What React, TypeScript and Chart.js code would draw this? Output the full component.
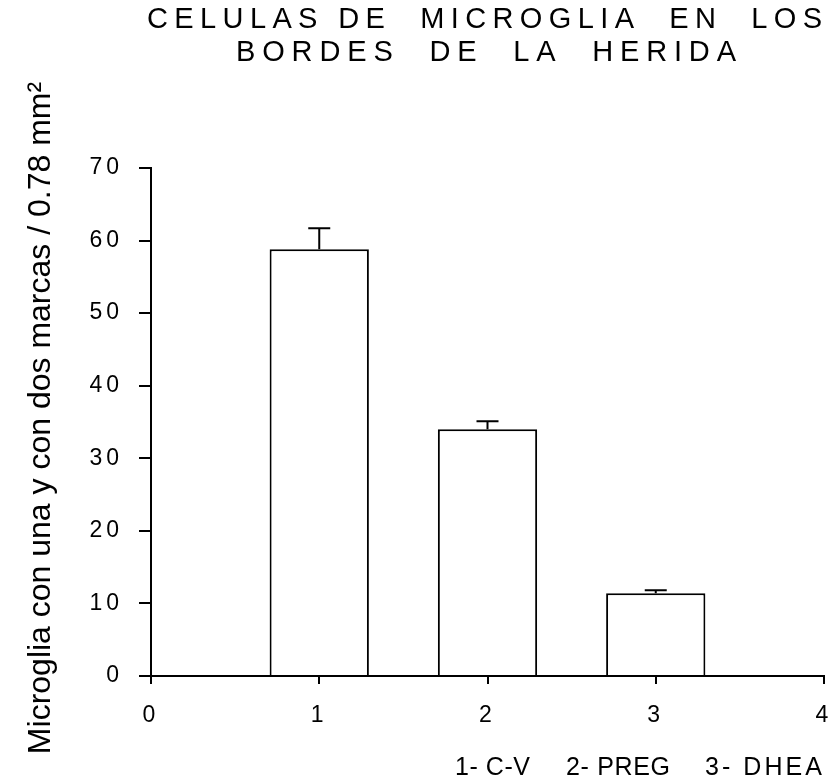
import { useEffect, useRef } from "react";
import { Chart, registerables } from "chart.js";

Chart.register(...registerables);

// ---- data ----
const categories = [1, 2, 3];
const values = [58.8, 34.0, 11.4];
const errors = [2.9, 1.1, 0.4];
const xTickValues = [0, 1, 2, 3, 4];
const yTickValues = [0, 10, 20, 30, 40, 50, 60, 70];
const titleLines = ["CELULAS DE  MICROGLIA  EN  LOS", "BORDES  DE  LA  HERIDA"];
const groupLegend = ["1- C-V", "2- PREG", "3- DHEA"];
const yAxisTitle = "Microglia con una y con dos marcas / 0.78 mm²";

const FONT = '"Liberation Sans", Arial, Helvetica, sans-serif';

function drawSpaced(ctx: CanvasRenderingContext2D, text: string, x0: number, x1: number, y: number) {
  ctx.letterSpacing = "0px";
  const w = ctx.measureText(text).width;
  const n = Array.from(text).length;
  const sp = n > 1 ? (x1 - x0 - w) / (n - 1) : 0;
  ctx.letterSpacing = sp + "px";
  ctx.textAlign = "left";
  ctx.fillText(text, x0, y);
  ctx.letterSpacing = "0px";
}

const errorBarPlugin = {
  id: "errorBars",
  afterDatasetsDraw(chart: any) {
    const ctx = chart.ctx;
    const xs = chart.scales.x;
    const ys = chart.scales.y;
    ctx.save();
    ctx.strokeStyle = "#000";
    ctx.lineWidth = 2;
    categories.forEach((c, i) => {
      const x = xs.getPixelForValue(c);
      const yb = ys.getPixelForValue(values[i]);
      const yt = ys.getPixelForValue(values[i] + errors[i]);
      ctx.beginPath();
      ctx.moveTo(x, yb);
      ctx.lineTo(x, yt);
      ctx.moveTo(x - 11, yt);
      ctx.lineTo(x + 11, yt);
      ctx.stroke();
    });
    ctx.restore();
  },
};

const textPlugin = {
  id: "texts",
  beforeDraw(chart: any) {
    chart.ctx.letterSpacing = "4px";
  },
  afterDraw(chart: any) {
    const ctx = chart.ctx as CanvasRenderingContext2D;
    ctx.save();
    ctx.fillStyle = "#000";
    ctx.textBaseline = "middle";
    ctx.font = "29px " + FONT;
    drawSpaced(ctx, titleLines[0], 147, 822, 20);
    drawSpaced(ctx, titleLines[1], 236, 736, 53);
    ctx.font = "25px " + FONT;
    drawSpaced(ctx, groupLegend[0], 455, 530, 768);
    drawSpaced(ctx, groupLegend[1], 566, 670, 768);
    drawSpaced(ctx, groupLegend[2], 705, 822, 768);
    ctx.save();
    ctx.translate(41, 418);
    ctx.rotate(-Math.PI / 2);
    ctx.font = "32px " + FONT;
    ctx.letterSpacing = "0px";
    ctx.textAlign = "center";
    ctx.fillText(yAxisTitle, 0, 0);
    ctx.restore();
    ctx.restore();
  },
};

export default function App() {
  const ref = useRef<HTMLCanvasElement | null>(null);
  useEffect(() => {
    if (!ref.current) return;
    const chart = new Chart(ref.current, {
      type: "bar",
      data: {
        datasets: [
          {
            data: categories.map((c, i) => ({ x: c, y: values[i] })),
            backgroundColor: "#ffffff",
            borderColor: "#000000",
            borderWidth: 2,
            barPercentage: 0.59,
            categoryPercentage: 1,
          },
        ],
      },
      options: {
        animation: false,
        responsive: false,
        layout: { padding: { left: 0, right: 8, top: 168, bottom: 0 } },
        plugins: { legend: { display: false }, tooltip: { enabled: false }, title: { display: false } },
        scales: {
          x: {
            type: "linear",
            min: xTickValues[0],
            max: xTickValues[xTickValues.length - 1],
            offset: false,
            afterBuildTicks: (s: any) => {
              s.ticks = xTickValues.map((v) => ({ value: v }));
            },
            afterFit: (s: any) => {
              s.height = 108;
              s.paddingLeft = 0;
              s.paddingRight = 0;
            },
            grid: { drawOnChartArea: false, drawTicks: true, tickLength: 8, color: "#000", lineWidth: 2, offset: false },
            border: { display: true, color: "#000", width: 2 },
            ticks: { color: "#000", padding: 18, font: { family: FONT, size: 23 }, maxRotation: 0 },
          },
          y: {
            type: "linear",
            min: yTickValues[0],
            max: yTickValues[yTickValues.length - 1],
            afterBuildTicks: (s: any) => {
              s.ticks = yTickValues.map((v) => ({ value: v }));
            },
            afterFit: (s: any) => {
              s.width = 151;
            },
            grid: { drawOnChartArea: false, drawTicks: true, tickLength: 12, color: "#000", lineWidth: 2 },
            border: { display: true, color: "#000", width: 2 },
            ticks: { color: "#000", padding: 16, font: { family: FONT, size: 23 } },
          },
        },
      },
      plugins: [errorBarPlugin, textPlugin],
    });
    return () => chart.destroy();
  }, []);
  return (
    <div style={{ position: "fixed", left: 0, top: 0, width: 832, height: 784, overflow: "hidden", background: "#fff" }}>
      <canvas ref={ref} width={832} height={784} style={{ display: "block" }} />
    </div>
  );
}
